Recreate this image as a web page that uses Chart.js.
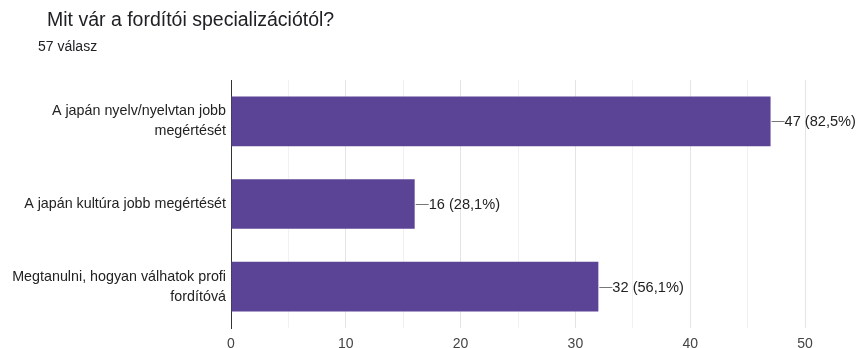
<!DOCTYPE html>
<html>
<head>
<meta charset="utf-8">
<script src="https://cdn.jsdelivr.net/npm/chart.js@4"></script>
<style>
  body { margin: 0; background: #fff; font-family: "Liberation Sans", Arial, sans-serif; }
  #wrap { position: relative; width: 859px; height: 348px; overflow: hidden; }
  #title { position: absolute; left: 47px; top: 8px; font-size: 19.5px; color: #202124; }
  #sub { position: absolute; left: 38px; top: 38px; font-size: 14px; color: #202124; }
  canvas { position: absolute; left: 0; top: 0; }
</style>
</head>
<body>
<div id="wrap">
  <canvas id="myChart" width="859" height="348"></canvas>
  <div id="title">Mit vár a fordítói specializációtól?</div>
  <div id="sub">57 válasz</div>
</div>
<script>
var answers = [
    ['A japán nyelv/nyelvtan jobb', 'megértését'],
    'A japán kultúra jobb megértését',
    ['Megtanulni, hogyan válhatok profi', 'fordítóvá']
]
var counts = [47, 16, 32]
var percents = ['82,5%', '28,1%', '56,1%']
var xTicks = [0, 10, 20, 30, 40, 50]

const ctx = document.getElementById('myChart');
new Chart(ctx, {
    type: 'bar',
    data: {
        labels: answers,
        datasets: [{
            data: counts,
            backgroundColor: '#5b4496',
            barPercentage: 0.6,
            categoryPercentage: 1
        }]
    },
    options: {
        indexAxis: 'y',
        responsive: false,
        animation: false,
        layout: {
            padding: { left: 0, right: 54, top: 80, bottom: 0 }
        },
        scales: {
            x: {
                min: 0,
                max: 50,
                ticks: {
                    stepSize: 5,
                    autoSkip: false,
                    maxRotation: 0,
                    padding: 8,
                    color: '#444',
                    font: { family: 'Liberation Sans', size: 14 },
                    callback: function (value) {
                        return xTicks.indexOf(value) >= 0 ? value : '';
                    }
                },
                grid: {
                    drawTicks: false,
                    color: function (c) {
                        return c.tick && c.tick.value % 10 === 0 ? '#e4e4e4' : '#f1f1f1';
                    }
                },
                border: { display: false },
                afterFit: function (scale) { scale.height = 20; }
            },
            y: {
                ticks: {
                    padding: 5,
                    color: '#222',
                    font: { family: 'Liberation Sans', size: 14.3, lineHeight: 1.4 }
                },
                grid: { display: false, drawTicks: false },
                border: { display: true, color: '#333', width: 1 },
                afterFit: function (scale) {
                    scale.width = 231;
                    scale.paddingTop = 0;
                    scale.paddingBottom = 0;
                }
            }
        },
        plugins: {
            legend: { display: false },
            tooltip: { enabled: false }
        }
    },
    plugins: [{
        afterDatasetsDraw: chart => {
            let meta = chart.getDatasetMeta(0);
            let c = chart.ctx;
            c.save();
            c.font = '14.6px "Liberation Sans"';
            c.textBaseline = 'middle';
            c.fillStyle = '#222';
            c.strokeStyle = '#777';
            c.lineWidth = 1;
            meta.data.forEach((bar, i) => {
                let x = bar.x;
                let y = Math.round(bar.y) + 0.5;
                c.beginPath();
                c.moveTo(x + 1, y);
                c.lineTo(x + 14, y);
                c.stroke();
                c.fillText(counts[i] + ' (' + percents[i] + ')', x + 14, y);
            });
            c.restore();
        }
    }]
});
</script>
</body>
</html>
